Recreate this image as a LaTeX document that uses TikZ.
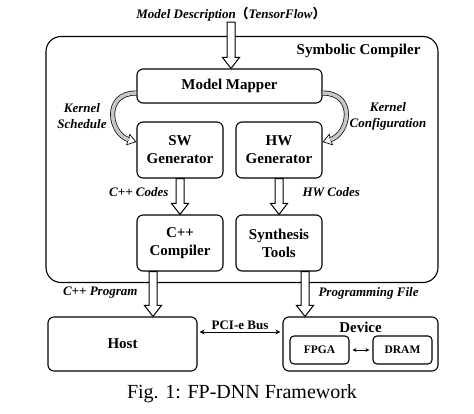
\documentclass[tikz,border=0pt]{standalone}
\usepackage{fontspec}
\setmainfont{Liberation Serif}
\newfontfamily\cjk{Noto Sans CJK SC}
\usetikzlibrary{arrows.meta,positioning,calc}

%% hollow block arrow between two points (vertical, pointing down)
\newcommand{\fatarrow}[2]{%
  \draw[fat] let \p1=#1, \p2=#2 in
    (\x1-4pt,\y1) -- (\x1-4pt,\y2+11pt) -- (\x1-8.5pt,\y2+11pt) -- (\x1,\y2)
    -- (\x1+8.5pt,\y2+11pt) -- (\x1+4pt,\y2+11pt) -- (\x1+4pt,\y1) -- cycle;}

\begin{document}
\begin{tikzpicture}[
  x=1pt, y=-1pt,
  every node/.style={align=center},
  boxtext/.style={font=\fontsize{15}{18}\selectfont\bfseries},
  lbl/.style={font=\fontsize{13}{16}\selectfont\bfseries\itshape},
  block/.style={draw, rounded corners=6pt, line width=1.1pt, inner sep=0pt, boxtext},
  unit/.style={block, minimum width=86pt, minimum height=56pt},
  chip/.style={draw, rounded corners=4pt, line width=1.1pt, inner sep=0pt,
               minimum width=59pt, minimum height=28pt,
               font=\fontsize{11.5}{13}\selectfont\bfseries},
  fat/.style={draw, fill=white, line width=1pt, line join=miter},
  band/.style={line width=0.7pt, double=black!22, double distance=3.6pt, shorten >=8pt},
  bandtip/.style={line width=0.7pt, -{Triangle[open, length=9pt, width=12pt, fill=white]}},
  arr/.style={{Stealth[length=5pt,width=5pt]}-{Stealth[length=5pt,width=5pt]}, line width=0.8pt},
]
\useasboundingbox (0,0) rectangle (474,414);

%% --- Symbolic Compiler frame ---
\node[draw, rounded corners=15pt, line width=1.1pt, minimum width=392pt, minimum height=246pt]
  (compiler) at (242,159.5) {};
\node[boxtext, anchor=east] (compname) at (424,51) {Symbolic Compiler};

%% --- Input ---
\node[lbl, inner sep=0pt] (desc) at (231,14) {Model Description{\cjk （}TensorFlow{\cjk ）}};

%% --- Compiler stages ---
\node[block, minimum width=185pt, minimum height=34pt] (mapper) at (229.5,86) {Model Mapper};
\node[unit] (sw)    at (180,150) {SW\\Generator};
\node[unit] (hw)    at (279,150) {HW\\Generator};
\node[unit] (cpp)   at (180,243) {C++\\Compiler};
\node[unit] (synth) at (279,243) {Synthesis\\Tools};

%% --- Platform ---
\node[block, minimum width=149pt, minimum height=54pt] (host)   at (122.5,344) {Host};
\node[block, minimum width=155pt, minimum height=54pt] (device) at (360.5,344) {};
\node[boxtext] (devname) at (360.5,327) {Device};
\node[chip] (fpga) at (319.5,350) {FPGA};
\node[chip] (dram) at (402.5,350) {DRAM};

%% --- Block arrows ---
\fatarrow{([yshift=-1pt]desc.south)}{(mapper.north)}
\fatarrow{(sw.south)}{(cpp.north)}
\fatarrow{(hw.south)}{(synth.north)}
\fatarrow{([xshift=-27pt]cpp.south)}{([xshift=-27pt]cpp.south |- host.north)}
\fatarrow{([xshift=26pt]synth.south)}{([xshift=26pt]synth.south |- device.north)}

%% --- Curved arrows: Mapper -> Generators ---
\draw[bandtip] ([yshift=-7pt]mapper.west) .. controls +(-34,0) and +(-27,-8) .. ([yshift=8pt]sw.west);
\draw[band]    ([yshift=-7pt]mapper.west) .. controls +(-34,0) and +(-27,-8) .. ([yshift=8pt]sw.west);
\draw[bandtip] ([yshift=-7pt]mapper.east) .. controls +(34,0) and +(27,-8) .. ([yshift=8pt]hw.east);
\draw[band]    ([yshift=-7pt]mapper.east) .. controls +(34,0) and +(27,-8) .. ([yshift=8pt]hw.east);

%% --- Links ---
\draw[arr] ([xshift=2pt,yshift=12pt]host.east) -- node[above=-1pt, font=\fontsize{13}{15}\selectfont\bfseries] (pcie) {PCI-e Bus} ([xshift=-2pt,yshift=12pt]device.west);
\draw[{Stealth[length=4pt,width=4pt]}-{Stealth[length=4pt,width=4pt]}, line width=0.8pt]
  ([xshift=3pt]fpga.east) -- ([xshift=-3pt]dram.west);

%% --- Labels ---
\node[lbl] (ksched) at (82,116) {Kernel\\Schedule};
\node[lbl] (kconf)  at (388,116) {Kernel\\Configuration};
\node[lbl, anchor=east]  (cppcodes) at (172,192) {C++ Codes};
\node[lbl, anchor=west]  (hwcodes)  at (299,192) {HW Codes};
\node[lbl, anchor=east]  (cppprog)  at (141,293) {C++ Program};
\node[lbl, anchor=west]  (progfile) at (315,293) {Programming File};

%% --- Caption ---
\node[font=\fontsize{20}{24}\selectfont] (caption) at (242,394) {Fig. 1: FP-DNN Framework};

\end{tikzpicture}
\end{document}
